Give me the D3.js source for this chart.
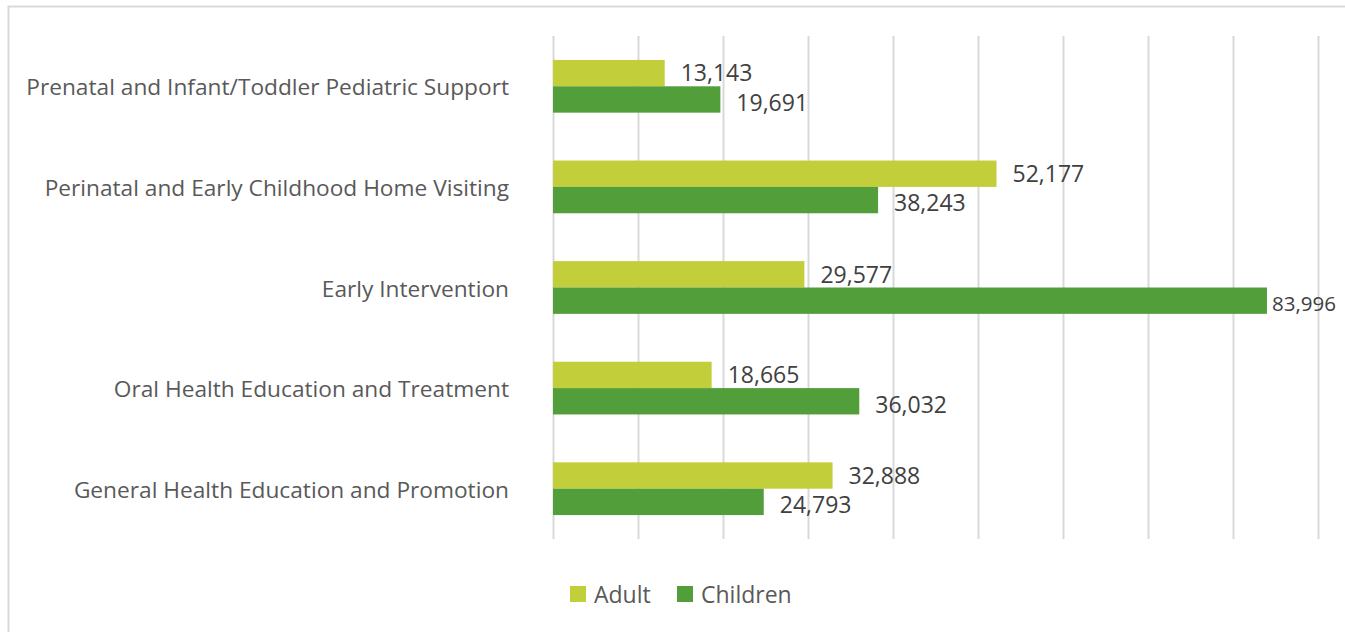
<!DOCTYPE html>
<html>
<head>
<meta charset="utf-8">
<script src="https://cdn.jsdelivr.net/npm/d3@7"></script>
<style>
  html, body { margin: 0; padding: 0; background: #fff; }
  svg { display: block; }
  text { font-family: "Open Sans", "Noto Sans", sans-serif; }
</style>
</head>
<body>
<svg id="chart" width="1345" height="632"></svg>
<script>
const categories = [
  "Prenatal and Infant/Toddler Pediatric Support",
  "Perinatal and Early Childhood Home Visiting",
  "Early Intervention",
  "Oral Health Education and Treatment",
  "General Health Education and Promotion"
];
const seriesNames = ["Adult", "Children"];
const adultValues = [13143, 52177, 29577, 18665, 32888];
const childrenValues = [19691, 38243, 83996, 36032, 24793];
const xTicks = [0, 10000, 20000, 30000, 40000, 50000, 60000, 70000, 80000, 90000];
const colors = ["#c2cf3a", "#529e3a"];

const svg = d3.select("#chart");

// outer frame
svg.append("path")
  .attr("d", "M8.5,632 L8.5,6.5 L1345,6.5")
  .attr("fill", "none").attr("stroke", "#d9d9d9").attr("stroke-width", 2);

const plotL = 553, plotR = 1318, plotT = 36, plotB = 539;

const x = d3.scaleLinear().domain([0, 90000]).range([plotL, plotR]);
const y = d3.scaleBand().domain(categories).range([plotT, plotB]).paddingInner(0.476).paddingOuter(0.238);
const sub = d3.scaleBand().domain(seriesNames).range([0, y.bandwidth()]);

// gridlines
svg.append("g").selectAll("line").data(xTicks).join("line")
  .attr("x1", d => Math.round(x(d)) + 0.5).attr("x2", d => Math.round(x(d)) + 0.5)
  .attr("y1", plotT).attr("y2", plotB)
  .attr("stroke", "#d9d9d9").attr("stroke-width", 2);

const rows = categories.map((c, i) => ({ c, vals: [
  { s: "Adult", v: adultValues[i], k: 0 },
  { s: "Children", v: childrenValues[i], k: 1 }
]}));

const g = svg.append("g").selectAll("g").data(rows).join("g")
  .attr("transform", d => `translate(0,${y(d.c)})`);

g.selectAll("rect").data(d => d.vals).join("rect")
  .attr("x", x(0))
  .attr("y", d => sub(d.s))
  .attr("width", d => x(d.v) - x(0))
  .attr("height", sub.bandwidth())
  .attr("fill", d => colors[d.k]);

g.selectAll("text.val").data(d => d.vals).join("text")
  .attr("class", "val")
  .attr("x", d => x(d.v) + 16)
  .attr("y", d => sub(d.s) + sub.bandwidth() / 2 + (d.k === 1 ? 3 : 0))
  .attr("dy", "0.36em")
  .attr("font-size", 23)
  .attr("fill", "#404040")
  .text(d => d3.format(",")(d.v))
  .each(function(d) {
    // keep labels inside the frame like the original (squeezed near right edge)
    const w = this.getComputedTextLength();
    const limit = 1336;
    if (x(d.v) + 16 + w > limit) {
      const nx = x(d.v) + 5;
      const fs = 23 * (limit - nx) / w;
      d3.select(this).attr("x", nx).attr("font-size", fs);
    }
  });

// category labels
svg.append("g").selectAll("text").data(categories).join("text")
  .attr("x", 509)
  .attr("y", d => y(d) + y.bandwidth() / 2 + 1)
  .attr("dy", "0.36em")
  .attr("text-anchor", "end")
  .attr("font-size", 22.7)
  .attr("fill", "#595959")
  .text(d => d);

// legend
const legendX = [570, 677];
const lg = svg.append("g").selectAll("g").data(seriesNames).join("g")
  .attr("transform", (d, i) => `translate(${legendX[i]},586)`);
lg.append("rect").attr("width", 16).attr("height", 16).attr("fill", (d, i) => colors[i]);
lg.append("text").attr("x", 24).attr("y", 9).attr("dy", "0.36em")
  .attr("font-size", 23).attr("fill", "#595959").text(d => d);
</script>
</body>
</html>
